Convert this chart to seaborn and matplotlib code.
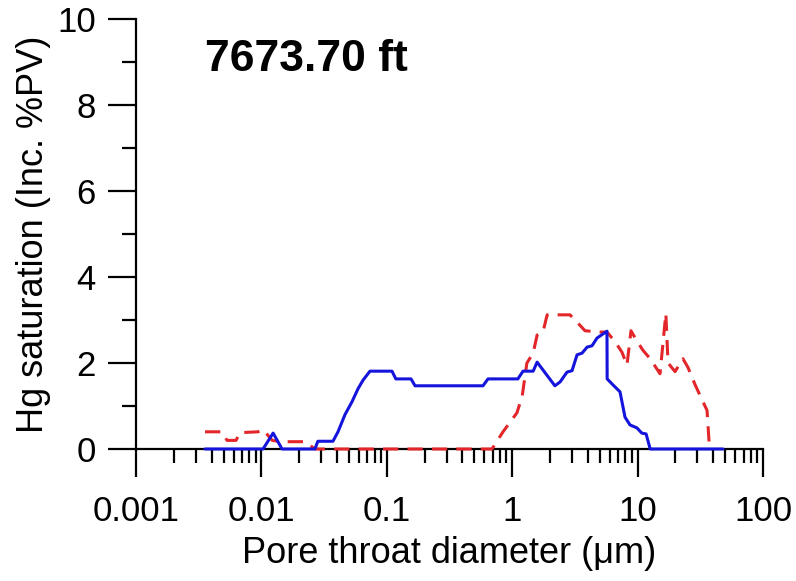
import numpy as np
import pandas as pd
import seaborn as sns
import matplotlib.pyplot as plt
from matplotlib.ticker import LogLocator, NullFormatter, MultipleLocator

# blue (solid) curve: pore throat diameter (um) vs incremental Hg saturation (%PV)
blue_d = [0.00355, 0.0103, 0.0124, 0.0146, 0.0267, 0.0282, 0.0372, 0.0408, 0.0464,
          0.0528, 0.0589, 0.0646, 0.0734, 0.110, 0.118, 0.156, 0.168, 0.585, 0.641,
          1.11, 1.22, 1.47, 1.58, 2.19, 2.41, 2.74, 3.00, 3.29, 3.61, 3.96, 4.33,
          4.75, 5.70, 5.72, 6.37, 7.24, 7.94, 8.70, 9.89, 10.8, 11.7, 12.6, 48.0]
blue_s = [0.0, 0.0, 0.37, 0.0, 0.0, 0.18, 0.18, 0.4, 0.8,
          1.1, 1.4, 1.6, 1.81, 1.81, 1.63, 1.63, 1.47, 1.47, 1.63,
          1.63, 1.81, 1.81, 2.02, 1.47, 1.56, 1.79, 1.82, 2.19, 2.23, 2.37, 2.40,
          2.58, 2.74, 1.63, 1.49, 1.33, 0.74, 0.56, 0.49, 0.37, 0.35, 0.0, 0.0]

# red (dashed) curve
red_d = [0.00355, 0.00485, 0.00532, 0.00627, 0.00675, 0.00939, 0.0103, 0.0122, 0.0141,
         0.0223, 0.0267, 0.690, 0.845, 1.09, 1.20, 1.31, 1.47, 1.58, 1.76, 1.90,
         2.89, 3.17, 3.81, 5.02, 5.70, 6.60, 7.51, 8.23, 8.86, 9.71, 11.0, 12.6,
         15.1, 16.8, 17.5, 19.9, 23.0, 25.2, 28.7, 32.6, 35.8, 37.1, 37.8]
red_s = [0.40, 0.40, 0.20, 0.20, 0.38, 0.40, 0.45, 0.20, 0.17,
         0.17, 0.0, 0.0, 0.40, 0.84, 1.22, 2.0, 2.23, 2.65, 2.72, 3.12,
         3.12, 3.0, 2.75, 2.72, 2.72, 2.5, 2.25, 1.95, 2.75, 2.55, 2.3, 2.1,
         1.75, 3.15, 2.0, 1.8, 2.1, 1.9, 1.5, 1.15, 0.9, 0.2, 0.0]

x_ticks = [0.001, 0.01, 0.1, 1, 10, 100]
x_labels = ['0.001', '0.01', '0.1', '1', '10', '100']
y_ticks = [0, 2, 4, 6, 8, 10]

sns.set_style('ticks')
plt.rcParams['font.family'] = ['Liberation Sans', 'DejaVu Sans']
plt.rcParams.update({'text.color': 'black', 'axes.labelcolor': 'black',
                     'xtick.color': 'black', 'ytick.color': 'black',
                     'axes.edgecolor': 'black'})

blue = pd.DataFrame({'d': blue_d, 's': blue_s})
red = pd.DataFrame({'d': red_d, 's': red_s})

fig = plt.figure(figsize=(7.96, 5.81), dpi=100)
ax = fig.add_axes([0.1709, 0.2272, 0.7876, 0.7401])

sns.lineplot(data=red, x='d', y='s', ax=ax, sort=False, estimator=None,
             color='#E3262A', lw=2.2, linestyle=(0, (5, 3)), zorder=3, clip_on=False)
sns.lineplot(data=blue, x='d', y='s', ax=ax, sort=False, estimator=None,
             color='#1414DC', lw=2.2, zorder=4, clip_on=False)

ax.set_xscale('log')
ax.set_xlim(0.001, 100)
ax.set_ylim(0, 10)
ax.set_xticks(x_ticks)
ax.set_xticklabels(x_labels)
ax.xaxis.set_minor_locator(LogLocator(base=10, subs=np.arange(2, 10)))
ax.xaxis.set_minor_formatter(NullFormatter())
ax.set_yticks(y_ticks)
ax.yaxis.set_minor_locator(MultipleLocator(1))

for side in ['top', 'right']:
    ax.spines[side].set_visible(False)
for side in ['left', 'bottom']:
    ax.spines[side].set_linewidth(1.6)
ax.tick_params(which='major', direction='out', length=20, width=1.6, labelsize=25)
ax.tick_params(axis='x', which='major', pad=13)
ax.tick_params(axis='y', which='major', pad=9)
ax.tick_params(which='minor', direction='out', length=10, width=1.6)
ax.set_xlabel('Pore throat diameter (\u03bcm)', fontsize=26, labelpad=6)
ax.set_ylabel('Hg saturation (Inc. %PV)', fontsize=26, labelpad=4)

ax.text(0.11, 0.905, '7673.70 ft', transform=ax.transAxes, fontsize=32,
        fontweight='bold', va='center', ha='left')

fig.savefig('out.png', dpi=100)
